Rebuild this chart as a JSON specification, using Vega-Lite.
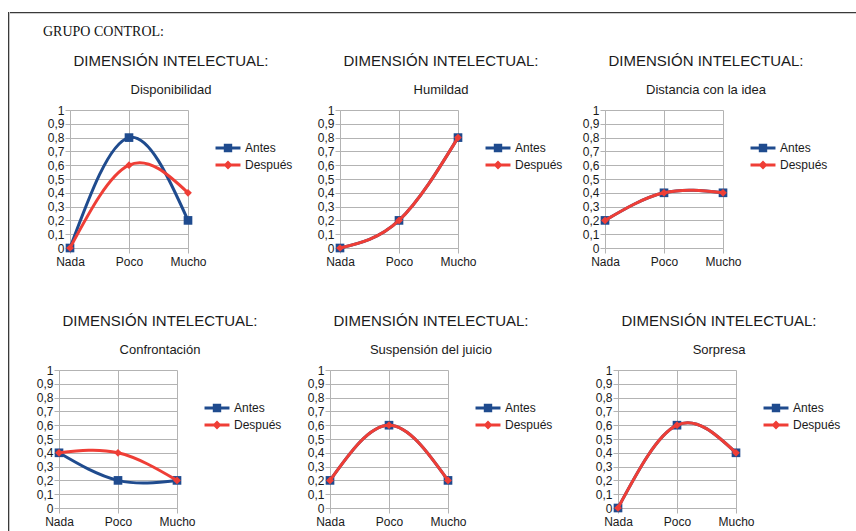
{
  "$schema": "https://vega.github.io/schema/vega-lite/v6.json",
  "padding": {"left": 8, "top": 12, "right": 0, "bottom": 0},
  "background": "white",
  "config": {
    "view": {"stroke": null},
    "font": "Liberation Sans",
    "axis": {"labelFont": "Liberation Sans", "labelFontSize": 12, "labelColor": "#1a1a1a", "gridColor": "#b3b3b3", "domainColor": "#b3b3b3", "tickColor": "#b3b3b3", "tickSize": 5, "labelOverlap": false},
    "axisX": {"labelPadding": 3},
    "axisY": {"labelPadding": 1},
    "title": {"font": "Liberation Sans", "fontSize": 15, "fontWeight": "normal", "color": "#1a1a1a", "subtitleFont": "Liberation Sans", "subtitleFontSize": 13, "subtitleColor": "#1a1a1a", "anchor": "middle", "offset": 7, "subtitlePadding": 15},
    "legend": {"labelFont": "Liberation Sans", "labelFontSize": 12, "labelColor": "#1a1a1a"}
  },
  "datasets": {
    "d": [
      {"panel": "Disponibilidad", "serie": "Antes", "nivel": "Nada", "orden": 0, "valor": 0},
      {"panel": "Disponibilidad", "serie": "Antes", "nivel": "Poco", "orden": 1, "valor": 0.8},
      {"panel": "Disponibilidad", "serie": "Antes", "nivel": "Mucho", "orden": 2, "valor": 0.2},
      {"panel": "Disponibilidad", "serie": "Después", "nivel": "Nada", "orden": 0, "valor": 0},
      {"panel": "Disponibilidad", "serie": "Después", "nivel": "Poco", "orden": 1, "valor": 0.6},
      {"panel": "Disponibilidad", "serie": "Después", "nivel": "Mucho", "orden": 2, "valor": 0.4},
      {"panel": "Humildad", "serie": "Antes", "nivel": "Nada", "orden": 0, "valor": 0},
      {"panel": "Humildad", "serie": "Antes", "nivel": "Poco", "orden": 1, "valor": 0.2},
      {"panel": "Humildad", "serie": "Antes", "nivel": "Mucho", "orden": 2, "valor": 0.8},
      {"panel": "Humildad", "serie": "Después", "nivel": "Nada", "orden": 0, "valor": 0},
      {"panel": "Humildad", "serie": "Después", "nivel": "Poco", "orden": 1, "valor": 0.2},
      {"panel": "Humildad", "serie": "Después", "nivel": "Mucho", "orden": 2, "valor": 0.8},
      {"panel": "Distancia con la idea", "serie": "Antes", "nivel": "Nada", "orden": 0, "valor": 0.2},
      {"panel": "Distancia con la idea", "serie": "Antes", "nivel": "Poco", "orden": 1, "valor": 0.4},
      {"panel": "Distancia con la idea", "serie": "Antes", "nivel": "Mucho", "orden": 2, "valor": 0.4},
      {"panel": "Distancia con la idea", "serie": "Después", "nivel": "Nada", "orden": 0, "valor": 0.2},
      {"panel": "Distancia con la idea", "serie": "Después", "nivel": "Poco", "orden": 1, "valor": 0.4},
      {"panel": "Distancia con la idea", "serie": "Después", "nivel": "Mucho", "orden": 2, "valor": 0.4},
      {"panel": "Confrontación", "serie": "Antes", "nivel": "Nada", "orden": 0, "valor": 0.4},
      {"panel": "Confrontación", "serie": "Antes", "nivel": "Poco", "orden": 1, "valor": 0.2},
      {"panel": "Confrontación", "serie": "Antes", "nivel": "Mucho", "orden": 2, "valor": 0.2},
      {"panel": "Confrontación", "serie": "Después", "nivel": "Nada", "orden": 0, "valor": 0.4},
      {"panel": "Confrontación", "serie": "Después", "nivel": "Poco", "orden": 1, "valor": 0.4},
      {"panel": "Confrontación", "serie": "Después", "nivel": "Mucho", "orden": 2, "valor": 0.2},
      {"panel": "Suspensión del juicio", "serie": "Antes", "nivel": "Nada", "orden": 0, "valor": 0.2},
      {"panel": "Suspensión del juicio", "serie": "Antes", "nivel": "Poco", "orden": 1, "valor": 0.6},
      {"panel": "Suspensión del juicio", "serie": "Antes", "nivel": "Mucho", "orden": 2, "valor": 0.2},
      {"panel": "Suspensión del juicio", "serie": "Después", "nivel": "Nada", "orden": 0, "valor": 0.2},
      {"panel": "Suspensión del juicio", "serie": "Después", "nivel": "Poco", "orden": 1, "valor": 0.6},
      {"panel": "Suspensión del juicio", "serie": "Después", "nivel": "Mucho", "orden": 2, "valor": 0.2},
      {"panel": "Sorpresa", "serie": "Antes", "nivel": "Nada", "orden": 0, "valor": 0},
      {"panel": "Sorpresa", "serie": "Antes", "nivel": "Poco", "orden": 1, "valor": 0.6},
      {"panel": "Sorpresa", "serie": "Antes", "nivel": "Mucho", "orden": 2, "valor": 0.4},
      {"panel": "Sorpresa", "serie": "Después", "nivel": "Nada", "orden": 0, "valor": 0},
      {"panel": "Sorpresa", "serie": "Después", "nivel": "Poco", "orden": 1, "valor": 0.6},
      {"panel": "Sorpresa", "serie": "Después", "nivel": "Mucho", "orden": 2, "valor": 0.4}
    ]
  },
  "spacing": 0,
  "resolve": {"scale": {"color": "independent", "shape": "independent"}, "legend": {"color": "independent", "shape": "independent"}},
  "hconcat": [
    {"width": 1.3, "height": 519, "view": {"fill": "#3a3a3a", "stroke": null}, "data": {"values": []}, "mark": "point"},
    {
      "spacing": 0,
      "resolve": {"scale": {"color": "independent", "shape": "independent"}, "legend": {"color": "independent", "shape": "independent"}},
      "vconcat": [
        {"width": 847, "height": 1.3, "view": {"fill": "#3a3a3a", "stroke": null}, "data": {"values": []}, "mark": "point",
         "title": {"text": "GRUPO CONTROL:", "orient": "bottom", "anchor": "start", "dx": 33, "offset": 12, "font": "Liberation Serif", "fontSize": 14, "color": "#111111"}},
        {"width": 1, "height": 14, "data": {"values": []}, "mark": "point"},
        {
          "spacing": 0,
          "resolve": {"scale": {"color": "independent", "shape": "independent"}, "legend": {"color": "independent", "shape": "independent"}},
          "hconcat": [
            {"width": 37, "height": 1, "data": {"values": []}, "mark": "point"},
            {
              "width": 118, "height": 138,
              "title": {"text": "DIMENSIÓN INTELECTUAL:", "subtitle": "Disponibilidad", "dx": 42},
              "data": {"name": "d"},
              "transform": [{"filter": "datum.panel === 'Disponibilidad'"}],
              "encoding": {
                "x": {"field": "nivel", "type": "nominal", "scale": {"type": "point", "domain": ["Nada", "Poco", "Mucho"], "padding": 0}, "axis": {"title": null, "labelAngle": 0, "grid": true}},
                "y": {"field": "valor", "type": "quantitative", "scale": {"domain": [0, 1], "nice": false}, "axis": {"title": null, "grid": true, "values": [0, 0.1, 0.2, 0.3, 0.4, 0.5, 0.6, 0.7, 0.8, 0.9, 1], "labelExpr": "replace(format(datum.value, '.1~f'), '.', ',')"}},
                "order": {"field": "orden", "type": "quantitative"}
              },
              "layer": [
                {"transform": [{"filter": "false"}], "mark": {"type": "point", "filled": true, "size": 144, "opacity": 1},
                 "encoding": {
                   "color": {"field": "serie", "type": "nominal", "scale": {"domain": ["Antes", "Después"], "range": ["#1f4b8e", "#ef3e36"]}, "legend": {"title": null, "orient": "none", "legendX": 152, "legendY": 32, "symbolSize": 144, "labelOffset": 11, "rowPadding": 5, "symbolStrokeWidth": 0}},
                   "shape": {"field": "serie", "type": "nominal", "scale": {"domain": ["Antes", "Después"], "range": ["M-2.08,-0.25H2.08V0.25H-2.08Z M-0.7,-0.7H0.7V0.7H-0.7Z", "M-2.08,-0.25H2.08V0.25H-2.08Z M0,-0.75L0.75,0L0,0.75L-0.75,0Z"]}, "legend": {"title": null, "orient": "none", "legendX": 152, "legendY": 32, "symbolSize": 144, "labelOffset": 11, "rowPadding": 5, "symbolStrokeWidth": 0}}
                 }},
                {"transform": [{"filter": "datum.serie === 'Antes'"}], "mark": {"type": "line", "interpolate": "natural", "color": "#1f4b8e", "strokeWidth": 3}, "encoding": {}},
                {"transform": [{"filter": "datum.serie === 'Antes'"}], "mark": {"type": "point", "shape": "square", "filled": true, "size": 75, "color": "#1f4b8e", "opacity": 1}, "encoding": {}},
                {"transform": [{"filter": "datum.serie === 'Después'"}], "mark": {"type": "line", "interpolate": "natural", "color": "#ef3e36", "strokeWidth": 3}, "encoding": {}},
                {"transform": [{"filter": "datum.serie === 'Después'"}], "mark": {"type": "point", "shape": "diamond", "filled": true, "size": 60, "color": "#ef3e36", "opacity": 1}, "encoding": {}}
              ]
            },
            {"width": 24, "height": 1, "data": {"values": []}, "mark": "point"},
            {
              "width": 118, "height": 138,
              "title": {"text": "DIMENSIÓN INTELECTUAL:", "subtitle": "Humildad", "dx": 42},
              "data": {"name": "d"},
              "transform": [{"filter": "datum.panel === 'Humildad'"}],
              "encoding": {
                "x": {"field": "nivel", "type": "nominal", "scale": {"type": "point", "domain": ["Nada", "Poco", "Mucho"], "padding": 0}, "axis": {"title": null, "labelAngle": 0, "grid": true}},
                "y": {"field": "valor", "type": "quantitative", "scale": {"domain": [0, 1], "nice": false}, "axis": {"title": null, "grid": true, "values": [0, 0.1, 0.2, 0.3, 0.4, 0.5, 0.6, 0.7, 0.8, 0.9, 1], "labelExpr": "replace(format(datum.value, '.1~f'), '.', ',')"}},
                "order": {"field": "orden", "type": "quantitative"}
              },
              "layer": [
                {"transform": [{"filter": "false"}], "mark": {"type": "point", "filled": true, "size": 144, "opacity": 1},
                 "encoding": {
                   "color": {"field": "serie", "type": "nominal", "scale": {"domain": ["Antes", "Después"], "range": ["#1f4b8e", "#ef3e36"]}, "legend": {"title": null, "orient": "none", "legendX": 152, "legendY": 32, "symbolSize": 144, "labelOffset": 11, "rowPadding": 5, "symbolStrokeWidth": 0}},
                   "shape": {"field": "serie", "type": "nominal", "scale": {"domain": ["Antes", "Después"], "range": ["M-2.08,-0.25H2.08V0.25H-2.08Z M-0.7,-0.7H0.7V0.7H-0.7Z", "M-2.08,-0.25H2.08V0.25H-2.08Z M0,-0.75L0.75,0L0,0.75L-0.75,0Z"]}, "legend": {"title": null, "orient": "none", "legendX": 152, "legendY": 32, "symbolSize": 144, "labelOffset": 11, "rowPadding": 5, "symbolStrokeWidth": 0}}
                 }},
                {"transform": [{"filter": "datum.serie === 'Antes'"}], "mark": {"type": "line", "interpolate": "natural", "color": "#1f4b8e", "strokeWidth": 3}, "encoding": {}},
                {"transform": [{"filter": "datum.serie === 'Antes'"}], "mark": {"type": "point", "shape": "square", "filled": true, "size": 75, "color": "#1f4b8e", "opacity": 1}, "encoding": {}},
                {"transform": [{"filter": "datum.serie === 'Después'"}], "mark": {"type": "line", "interpolate": "natural", "color": "#ef3e36", "strokeWidth": 3}, "encoding": {}},
                {"transform": [{"filter": "datum.serie === 'Después'"}], "mark": {"type": "point", "shape": "diamond", "filled": true, "size": 60, "color": "#ef3e36", "opacity": 1}, "encoding": {}}
              ]
            },
            {"width": 19, "height": 1, "data": {"values": []}, "mark": "point"},
            {
              "width": 118, "height": 138,
              "title": {"text": "DIMENSIÓN INTELECTUAL:", "subtitle": "Distancia con la idea", "dx": 42},
              "data": {"name": "d"},
              "transform": [{"filter": "datum.panel === 'Distancia con la idea'"}],
              "encoding": {
                "x": {"field": "nivel", "type": "nominal", "scale": {"type": "point", "domain": ["Nada", "Poco", "Mucho"], "padding": 0}, "axis": {"title": null, "labelAngle": 0, "grid": true}},
                "y": {"field": "valor", "type": "quantitative", "scale": {"domain": [0, 1], "nice": false}, "axis": {"title": null, "grid": true, "values": [0, 0.1, 0.2, 0.3, 0.4, 0.5, 0.6, 0.7, 0.8, 0.9, 1], "labelExpr": "replace(format(datum.value, '.1~f'), '.', ',')"}},
                "order": {"field": "orden", "type": "quantitative"}
              },
              "layer": [
                {"transform": [{"filter": "false"}], "mark": {"type": "point", "filled": true, "size": 144, "opacity": 1},
                 "encoding": {
                   "color": {"field": "serie", "type": "nominal", "scale": {"domain": ["Antes", "Después"], "range": ["#1f4b8e", "#ef3e36"]}, "legend": {"title": null, "orient": "none", "legendX": 152, "legendY": 32, "symbolSize": 144, "labelOffset": 11, "rowPadding": 5, "symbolStrokeWidth": 0}},
                   "shape": {"field": "serie", "type": "nominal", "scale": {"domain": ["Antes", "Después"], "range": ["M-2.08,-0.25H2.08V0.25H-2.08Z M-0.7,-0.7H0.7V0.7H-0.7Z", "M-2.08,-0.25H2.08V0.25H-2.08Z M0,-0.75L0.75,0L0,0.75L-0.75,0Z"]}, "legend": {"title": null, "orient": "none", "legendX": 152, "legendY": 32, "symbolSize": 144, "labelOffset": 11, "rowPadding": 5, "symbolStrokeWidth": 0}}
                 }},
                {"transform": [{"filter": "datum.serie === 'Antes'"}], "mark": {"type": "line", "interpolate": "natural", "color": "#1f4b8e", "strokeWidth": 3}, "encoding": {}},
                {"transform": [{"filter": "datum.serie === 'Antes'"}], "mark": {"type": "point", "shape": "square", "filled": true, "size": 75, "color": "#1f4b8e", "opacity": 1}, "encoding": {}},
                {"transform": [{"filter": "datum.serie === 'Después'"}], "mark": {"type": "line", "interpolate": "natural", "color": "#ef3e36", "strokeWidth": 3}, "encoding": {}},
                {"transform": [{"filter": "datum.serie === 'Después'"}], "mark": {"type": "point", "shape": "diamond", "filled": true, "size": 60, "color": "#ef3e36", "opacity": 1}, "encoding": {}}
              ]
            }
          ]
        },
        {"width": 1, "height": 47, "data": {"values": []}, "mark": "point"},
        {
          "spacing": 0,
          "resolve": {"scale": {"color": "independent", "shape": "independent"}, "legend": {"color": "independent", "shape": "independent"}},
          "hconcat": [
            {"width": 26, "height": 1, "data": {"values": []}, "mark": "point"},
            {
              "width": 118, "height": 138,
              "title": {"text": "DIMENSIÓN INTELECTUAL:", "subtitle": "Confrontación", "dx": 42},
              "data": {"name": "d"},
              "transform": [{"filter": "datum.panel === 'Confrontación'"}],
              "encoding": {
                "x": {"field": "nivel", "type": "nominal", "scale": {"type": "point", "domain": ["Nada", "Poco", "Mucho"], "padding": 0}, "axis": {"title": null, "labelAngle": 0, "grid": true}},
                "y": {"field": "valor", "type": "quantitative", "scale": {"domain": [0, 1], "nice": false}, "axis": {"title": null, "grid": true, "values": [0, 0.1, 0.2, 0.3, 0.4, 0.5, 0.6, 0.7, 0.8, 0.9, 1], "labelExpr": "replace(format(datum.value, '.1~f'), '.', ',')"}},
                "order": {"field": "orden", "type": "quantitative"}
              },
              "layer": [
                {"transform": [{"filter": "false"}], "mark": {"type": "point", "filled": true, "size": 144, "opacity": 1},
                 "encoding": {
                   "color": {"field": "serie", "type": "nominal", "scale": {"domain": ["Antes", "Después"], "range": ["#1f4b8e", "#ef3e36"]}, "legend": {"title": null, "orient": "none", "legendX": 152, "legendY": 32, "symbolSize": 144, "labelOffset": 11, "rowPadding": 5, "symbolStrokeWidth": 0}},
                   "shape": {"field": "serie", "type": "nominal", "scale": {"domain": ["Antes", "Después"], "range": ["M-2.08,-0.25H2.08V0.25H-2.08Z M-0.7,-0.7H0.7V0.7H-0.7Z", "M-2.08,-0.25H2.08V0.25H-2.08Z M0,-0.75L0.75,0L0,0.75L-0.75,0Z"]}, "legend": {"title": null, "orient": "none", "legendX": 152, "legendY": 32, "symbolSize": 144, "labelOffset": 11, "rowPadding": 5, "symbolStrokeWidth": 0}}
                 }},
                {"transform": [{"filter": "datum.serie === 'Antes'"}], "mark": {"type": "line", "interpolate": "natural", "color": "#1f4b8e", "strokeWidth": 3}, "encoding": {}},
                {"transform": [{"filter": "datum.serie === 'Antes'"}], "mark": {"type": "point", "shape": "square", "filled": true, "size": 75, "color": "#1f4b8e", "opacity": 1}, "encoding": {}},
                {"transform": [{"filter": "datum.serie === 'Después'"}], "mark": {"type": "line", "interpolate": "natural", "color": "#ef3e36", "strokeWidth": 3}, "encoding": {}},
                {"transform": [{"filter": "datum.serie === 'Después'"}], "mark": {"type": "point", "shape": "diamond", "filled": true, "size": 60, "color": "#ef3e36", "opacity": 1}, "encoding": {}}
              ]
            },
            {"width": 25, "height": 1, "data": {"values": []}, "mark": "point"},
            {
              "width": 118, "height": 138,
              "title": {"text": "DIMENSIÓN INTELECTUAL:", "subtitle": "Suspensión del juicio", "dx": 42},
              "data": {"name": "d"},
              "transform": [{"filter": "datum.panel === 'Suspensión del juicio'"}],
              "encoding": {
                "x": {"field": "nivel", "type": "nominal", "scale": {"type": "point", "domain": ["Nada", "Poco", "Mucho"], "padding": 0}, "axis": {"title": null, "labelAngle": 0, "grid": true}},
                "y": {"field": "valor", "type": "quantitative", "scale": {"domain": [0, 1], "nice": false}, "axis": {"title": null, "grid": true, "values": [0, 0.1, 0.2, 0.3, 0.4, 0.5, 0.6, 0.7, 0.8, 0.9, 1], "labelExpr": "replace(format(datum.value, '.1~f'), '.', ',')"}},
                "order": {"field": "orden", "type": "quantitative"}
              },
              "layer": [
                {"transform": [{"filter": "false"}], "mark": {"type": "point", "filled": true, "size": 144, "opacity": 1},
                 "encoding": {
                   "color": {"field": "serie", "type": "nominal", "scale": {"domain": ["Antes", "Después"], "range": ["#1f4b8e", "#ef3e36"]}, "legend": {"title": null, "orient": "none", "legendX": 152, "legendY": 32, "symbolSize": 144, "labelOffset": 11, "rowPadding": 5, "symbolStrokeWidth": 0}},
                   "shape": {"field": "serie", "type": "nominal", "scale": {"domain": ["Antes", "Después"], "range": ["M-2.08,-0.25H2.08V0.25H-2.08Z M-0.7,-0.7H0.7V0.7H-0.7Z", "M-2.08,-0.25H2.08V0.25H-2.08Z M0,-0.75L0.75,0L0,0.75L-0.75,0Z"]}, "legend": {"title": null, "orient": "none", "legendX": 152, "legendY": 32, "symbolSize": 144, "labelOffset": 11, "rowPadding": 5, "symbolStrokeWidth": 0}}
                 }},
                {"transform": [{"filter": "datum.serie === 'Antes'"}], "mark": {"type": "line", "interpolate": "natural", "color": "#1f4b8e", "strokeWidth": 3}, "encoding": {}},
                {"transform": [{"filter": "datum.serie === 'Antes'"}], "mark": {"type": "point", "shape": "square", "filled": true, "size": 75, "color": "#1f4b8e", "opacity": 1}, "encoding": {}},
                {"transform": [{"filter": "datum.serie === 'Después'"}], "mark": {"type": "line", "interpolate": "natural", "color": "#ef3e36", "strokeWidth": 3}, "encoding": {}},
                {"transform": [{"filter": "datum.serie === 'Después'"}], "mark": {"type": "point", "shape": "diamond", "filled": true, "size": 60, "color": "#ef3e36", "opacity": 1}, "encoding": {}}
              ]
            },
            {"width": 42, "height": 1, "data": {"values": []}, "mark": "point"},
            {
              "width": 118, "height": 138,
              "title": {"text": "DIMENSIÓN INTELECTUAL:", "subtitle": "Sorpresa", "dx": 42},
              "data": {"name": "d"},
              "transform": [{"filter": "datum.panel === 'Sorpresa'"}],
              "encoding": {
                "x": {"field": "nivel", "type": "nominal", "scale": {"type": "point", "domain": ["Nada", "Poco", "Mucho"], "padding": 0}, "axis": {"title": null, "labelAngle": 0, "grid": true}},
                "y": {"field": "valor", "type": "quantitative", "scale": {"domain": [0, 1], "nice": false}, "axis": {"title": null, "grid": true, "values": [0, 0.1, 0.2, 0.3, 0.4, 0.5, 0.6, 0.7, 0.8, 0.9, 1], "labelExpr": "replace(format(datum.value, '.1~f'), '.', ',')"}},
                "order": {"field": "orden", "type": "quantitative"}
              },
              "layer": [
                {"transform": [{"filter": "false"}], "mark": {"type": "point", "filled": true, "size": 144, "opacity": 1},
                 "encoding": {
                   "color": {"field": "serie", "type": "nominal", "scale": {"domain": ["Antes", "Después"], "range": ["#1f4b8e", "#ef3e36"]}, "legend": {"title": null, "orient": "none", "legendX": 152, "legendY": 32, "symbolSize": 144, "labelOffset": 11, "rowPadding": 5, "symbolStrokeWidth": 0}},
                   "shape": {"field": "serie", "type": "nominal", "scale": {"domain": ["Antes", "Después"], "range": ["M-2.08,-0.25H2.08V0.25H-2.08Z M-0.7,-0.7H0.7V0.7H-0.7Z", "M-2.08,-0.25H2.08V0.25H-2.08Z M0,-0.75L0.75,0L0,0.75L-0.75,0Z"]}, "legend": {"title": null, "orient": "none", "legendX": 152, "legendY": 32, "symbolSize": 144, "labelOffset": 11, "rowPadding": 5, "symbolStrokeWidth": 0}}
                 }},
                {"transform": [{"filter": "datum.serie === 'Antes'"}], "mark": {"type": "line", "interpolate": "natural", "color": "#1f4b8e", "strokeWidth": 3}, "encoding": {}},
                {"transform": [{"filter": "datum.serie === 'Antes'"}], "mark": {"type": "point", "shape": "square", "filled": true, "size": 75, "color": "#1f4b8e", "opacity": 1}, "encoding": {}},
                {"transform": [{"filter": "datum.serie === 'Después'"}], "mark": {"type": "line", "interpolate": "natural", "color": "#ef3e36", "strokeWidth": 3}, "encoding": {}},
                {"transform": [{"filter": "datum.serie === 'Después'"}], "mark": {"type": "point", "shape": "diamond", "filled": true, "size": 60, "color": "#ef3e36", "opacity": 1}, "encoding": {}}
              ]
            }
          ]
        }
      ]
    }
  ]
}
